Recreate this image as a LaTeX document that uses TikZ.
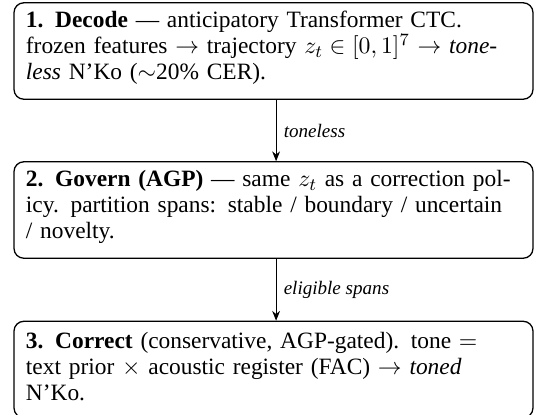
\documentclass[tikz,border=0pt]{standalone}
\usepackage{fontspec}
\setmainfont{Liberation Serif}
\usetikzlibrary{arrows.meta}

% extra room under the last line of a stage box
\newcommand\stagetail{\par\vspace*{2.8pt}}

\begin{document}
\begin{tikzpicture}[x=0.4615pt,y=-0.4615pt,
  stage/.style={draw, line width=0.6pt, rounded corners=4.5pt, align=left,
    text width=228.5pt, inner xsep=5.5pt, inner ysep=2pt, minimum height=44.5pt,
    font=\fontsize{10.8}{12}\selectfont,
    execute at end node=\stagetail},
  flow/.style={-{Stealth[length=4.5pt,width=3.6pt]}, line width=0.4pt},
  flowlabel/.style={right, midway, font=\fontsize{8.8}{10}\selectfont\itshape}]
\useasboundingbox (0,0) rectangle (534,414);

% the three pipeline stages
\node[stage] (decode) at (273.5,51) {\textbf{1. Decode} --- anticipatory Transformer CTC.\\
frozen features $\rightarrow$ trajectory $z_t \in [0,1]^7$ $\rightarrow$ \textit{tone-}\\
\textit{less} N'Ko ($\sim$20\% CER).};

\node[stage] (govern) at (273.5,210) {\textbf{2. Govern (AGP)} --- same $z_t$ as a correction pol-\\
icy. partition spans: stable / boundary / uncertain\\
/ novelty.};

\node[stage] (correct) at (273.5,369.5) {\textbf{3. Correct} (conservative, AGP-gated). tone $=$\\
text prior $\times$ acoustic register (FAC) $\rightarrow$ \textit{toned}\\
N'Ko.};

% connectors between stages
\draw[flow] ([xshift=1.2pt]decode.south) -- node[flowlabel] {toneless} ([xshift=1.2pt]govern.north);
\draw[flow] ([xshift=1.2pt]govern.south) -- node[flowlabel] {eligible spans} ([xshift=1.2pt]correct.north);
\end{tikzpicture}
\end{document}
